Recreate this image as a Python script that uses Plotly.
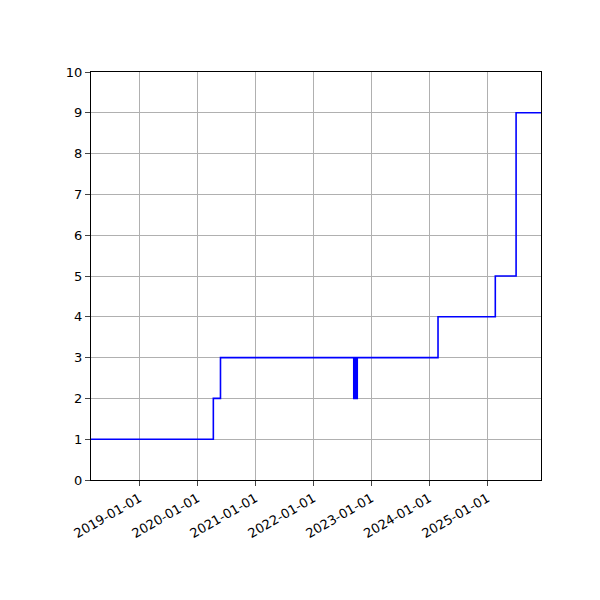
import plotly.graph_objects as go

dates = ["2018-03-01", "2020-04-10", "2020-05-25",
         "2022-09-12", "2022-09-14", "2022-09-17", "2022-09-19", "2022-09-22", "2022-09-24",
         "2022-09-27", "2022-09-29", "2022-10-02", "2022-10-04",
         "2024-02-25", "2025-02-20", "2025-07-01", "2025-12-05"]
values = [1, 2, 3, 2, 3, 2, 3, 2, 3, 2, 3, 2, 3, 4, 5, 9, 9]
tick_vals = ["2019-01-01", "2020-01-01", "2021-01-01", "2022-01-01", "2023-01-01", "2024-01-01", "2025-01-01"]

fig = go.Figure(go.Scatter(x=dates, y=values, mode="lines", line=dict(shape="hv", color="blue", width=1.6)))
fig.update_layout(
    width=600, height=600, plot_bgcolor="white", paper_bgcolor="white", showlegend=False,
    margin=dict(l=83, r=67, t=64, b=128, autoexpand=False),
    font=dict(family="DejaVu Sans", size=13, color="black"),
)
fig.update_xaxes(range=["2018-03-01", "2025-12-05"], tickvals=tick_vals, ticktext=tick_vals,
                 tickangle=-30, showgrid=True, gridcolor="#b0b0b0", ticks="outside",
                 showline=True, linecolor="black", mirror=True, zeroline=False)
fig.update_yaxes(range=[0, 10], dtick=1, showgrid=True, gridcolor="#b0b0b0", ticks="outside",
                 showline=True, linecolor="black", mirror=True, zeroline=False)
fig.write_html("out.html")
